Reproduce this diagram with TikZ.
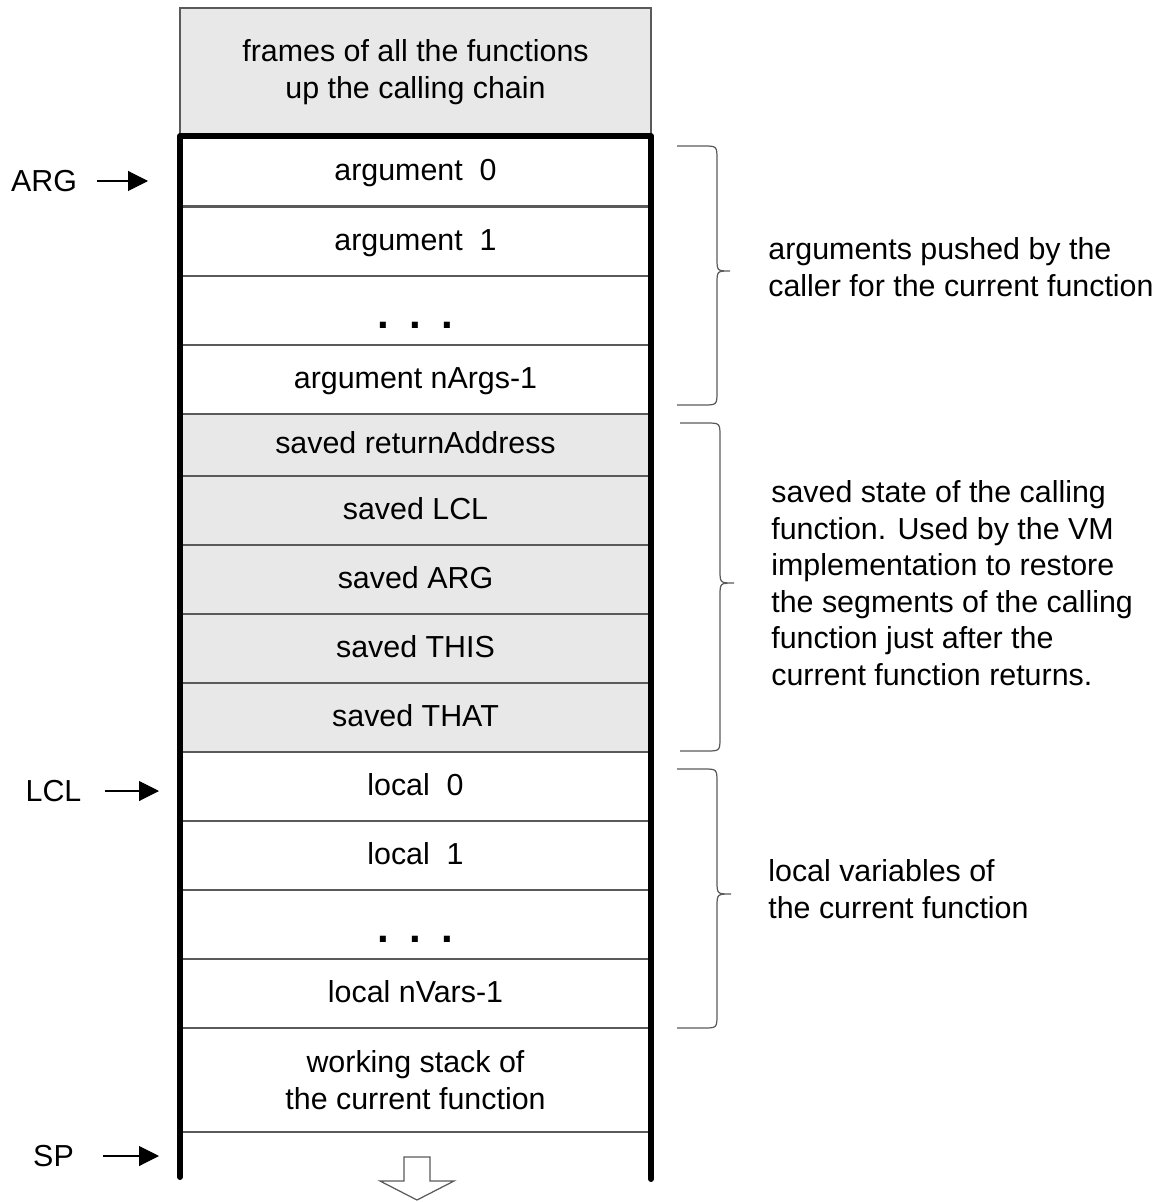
\documentclass[tikz,border=0pt]{standalone}
\usepackage{fontspec}
\setmainfont{Liberation Sans}
\usetikzlibrary{arrows.meta}
\definecolor{xgray}{RGB}{232,232,232}
\definecolor{xline}{RGB}{90,90,90}
\begin{document}
\begin{tikzpicture}[x=0.02cm,y=-0.02cm,font=\fontsize{17.3}{20.8}\selectfont]
\tikzset{block/.style={draw=xline,line width=0.7pt,minimum width=9.42cm,minimum height=1.38cm,inner sep=0pt,align=center}}
\tikzset{cell/.style={block,text height=10pt,text depth=0pt}}
\tikzset{saved/.style={cell,fill=xgray}}
\tikzset{dotrow/.style={block,text height=20.3pt,text depth=0pt,font=\fontsize{24}{24}\selectfont\bfseries}}
\tikzset{note/.style={anchor=west,align=left,inner sep=0pt}}
\tikzset{reg/.style={inner sep=0pt}}
\tikzset{ptr/.style={draw=black,line width=0.6pt,-{Triangle[length=0.4cm,width=0.4cm]}}}
\tikzset{brc/.style={draw=xline,line width=0.7pt}}
\tikzset{frame/.style={line width=3.4pt,line cap=round,line join=round}}
\useasboundingbox (0,0) rectangle (1157,1202);
\def \cx {415.5}
% caller frames
\node[block,fill=xgray,minimum height=2.56cm] at (\cx,72) (frames) {frames of all the functions\\up the calling chain};
% arguments
\node[cell] at (\cx,171.5) (arg0) {argument~~0};
\node[cell] at (\cx,241.5) (arg1) {argument~~1};
\node[dotrow] at (\cx,310.5) (argdots) {.\hspace{0.48em}.\hspace{0.48em}.};
\node[cell] at (\cx,379.5) (argn) {argument nArgs-1};
% saved state
\node[saved,minimum height=1.24cm] at (\cx,445) (sret) {saved returnAddress};
\node[saved] at (\cx,510.5) (slcl) {saved LCL};
\node[saved] at (\cx,579.5) (sarg) {saved ARG};
\node[saved] at (\cx,648.5) (sthis) {saved THIS};
\node[saved] at (\cx,717.5) (sthat) {saved THAT};
% locals
\node[cell] at (\cx,786.5) (loc0) {local~~0};
\node[cell] at (\cx,855.5) (loc1) {local~~1};
\node[dotrow] at (\cx,924.5) (locdots) {.\hspace{0.48em}.\hspace{0.48em}.};
\node[cell] at (\cx,993.5) (locn) {local nVars-1};
\node[block,minimum height=2.08cm] at (\cx,1080) (work) {working stack of\\the current function};
% thick frame
\draw[frame] (180,1177) -- (180,136) -- (651,136) -- (651,1179);
% growth arrow
\draw[draw=xline,fill=white,line width=0.7pt] (404,1157) -- (430,1157) -- (430,1181) -- (454,1181) -- (417,1200) -- (380,1181) -- (404,1181) -- cycle;
% pointers
\node[reg] at (44,181) (argreg) {ARG};
\coordinate (argptr) at (148,181);
\draw[ptr,shorten <=0.4cm] (argreg) -- (argptr);
\node[reg] at (53.5,791) (lclreg) {LCL};
\coordinate (lclptr) at (159,791);
\draw[ptr,shorten <=0.46cm] (lclreg) -- (lclptr);
\node[reg] at (53.5,1156) (spreg) {SP};
\coordinate (spptr) at (159,1156);
\draw[ptr,shorten <=0.58cm] (spreg) -- (spptr);
% braces
\draw[brc] (677,146) -- (703,146) .. controls (717,146) .. (717,160) -- (717,258) .. controls (717,271) .. (730,271) .. controls (717,271) .. (717,284) -- (717,391) .. controls (717,405) .. (703,405) -- (677,405);
\draw[brc] (680,423) -- (706,423) .. controls (720,423) .. (720,437) -- (720,570) .. controls (720,583) .. (734,583) .. controls (720,583) .. (720,596) -- (720,737) .. controls (720,751) .. (706,751) -- (680,751);
\draw[brc] (677,769) -- (703,769) .. controls (717,769) .. (717,783) -- (717,881) .. controls (717,894) .. (731,894) .. controls (717,894) .. (717,907) -- (717,1014) .. controls (717,1028) .. (703,1028) -- (677,1028);
\node[note] at (768,267) (argnote) {arguments pushed by the\\caller for the current function};
\node[note] at (771,583) (savednote) {saved state of the calling\\function. Used by the VM\\implementation to restore\\the segments of the calling\\function just after the\\current function returns.};
\node[note] at (768,889) (locnote) {local variables of\\the current function};
\end{tikzpicture}
\end{document}
